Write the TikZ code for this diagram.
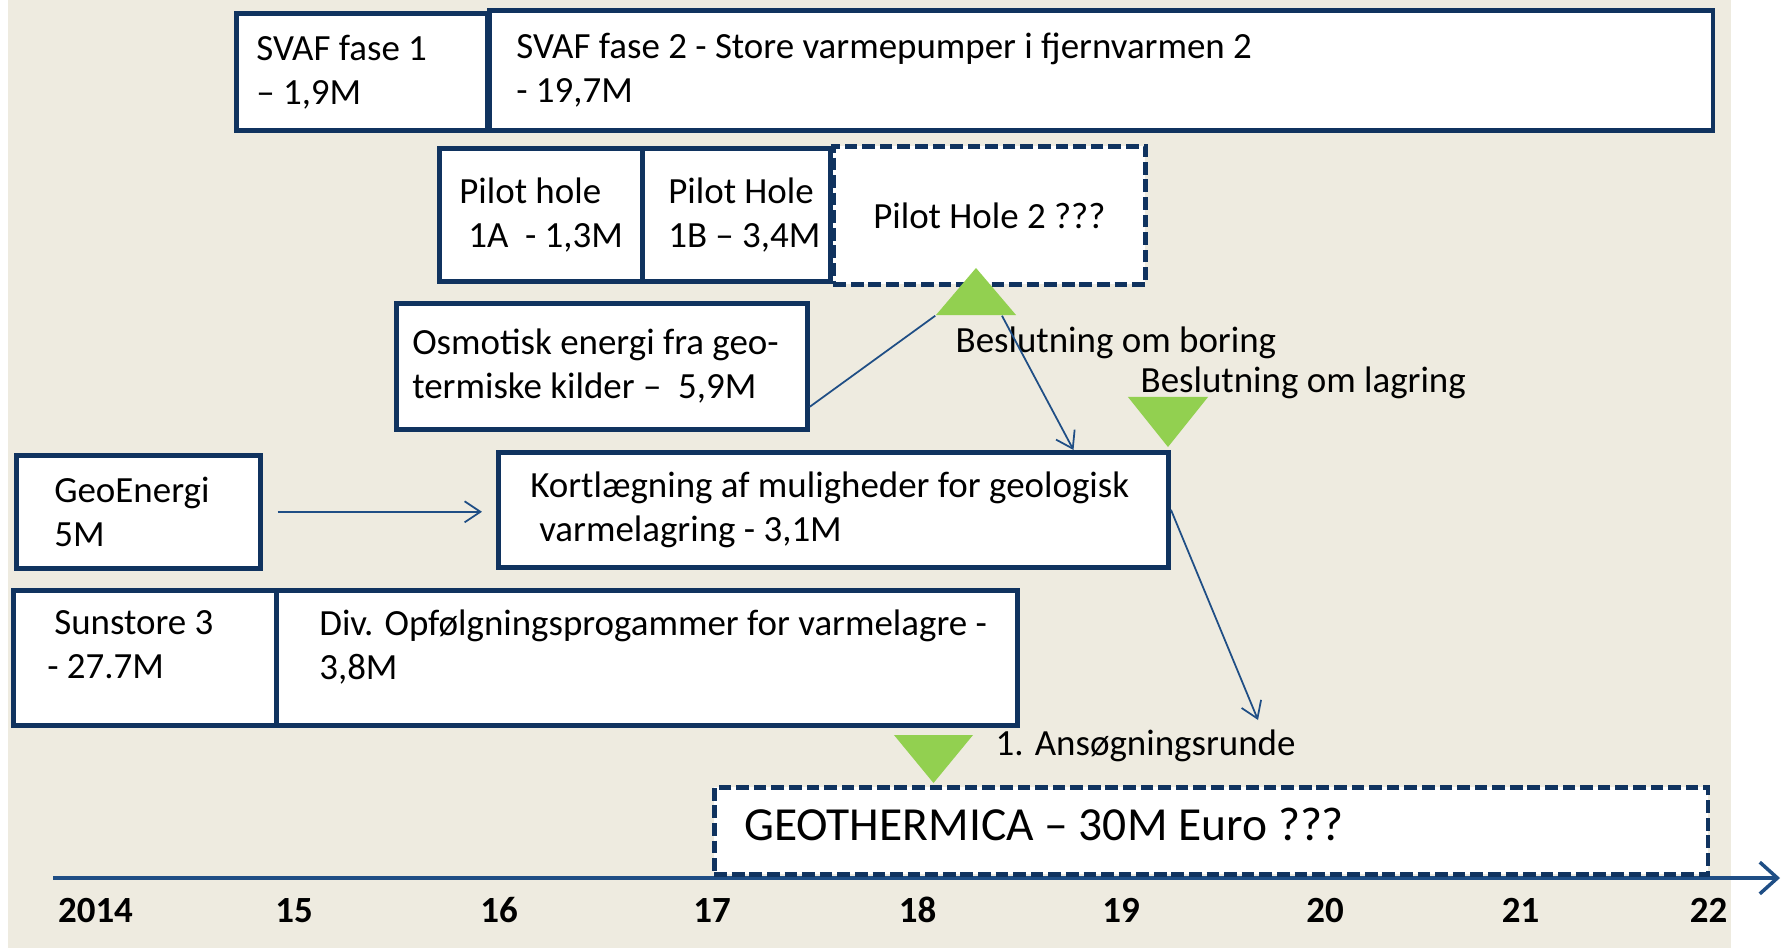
\documentclass[tikz,border=0pt]{standalone}
\usepackage{fontspec}
\setmainfont{Carlito}
\usetikzlibrary{arrows.meta}
\definecolor{boxblue}{HTML}{10335F}
\definecolor{lineblue}{HTML}{1F4E85}
\definecolor{flaggreen}{HTML}{92D050}
\definecolor{paper}{HTML}{EEEBE0}

\begin{document}
\begin{tikzpicture}
          [x=0.01cm,y=-0.01cm,
           box/.style={rectangle, draw=boxblue, line width=1.3pt, fill=white, anchor=north west, align=flush left, inner sep=0pt, font=\fontsize{10.5}{12.5}\selectfont},
           dashbox/.style={box, align=center, dash pattern=on 3.6pt off 1.4pt},
           lpad/.style={execute at begin node={\leftskip=#1}},
           remark/.style={anchor=base west, inner sep=0pt, font=\fontsize{10.5}{12.5}\selectfont},
           year/.style={anchor=base, inner sep=0pt, font=\fontsize{10.5}{12.5}\selectfont\bfseries}]
        \tikzset{
          link/.style={draw=lineblue, line width=0.5pt},
          arr/.style={link, -{Straight Barb[length=4.5pt,width=6pt]}},
          timeline/.style={draw=lineblue, line width=1pt, -{Straight Barb[length=5pt,width=9pt]}},
          flagup/.style={inner sep=0pt, minimum width=0.8cm, minimum height=0.47cm,
            path picture={\fill[flaggreen] (path picture bounding box.south west) -- (path picture bounding box.south east) -- (path picture bounding box.north) -- cycle;}},
          flagdown/.style={inner sep=0pt, minimum width=0.8cm, minimum height=0.49cm,
            path picture={\fill[flaggreen] (path picture bounding box.north west) -- (path picture bounding box.north east) -- (path picture bounding box.south) -- cycle;}}
        }
          \useasboundingbox (0,0) rectangle (1782,948);
          \fill[paper] (8,0) rectangle (1731,948);
          \coordinate (t0) at (53,878);
          \coordinate (t1) at (1780,878);
          \draw[timeline] (t0) -- (t1);
          \foreach \px/\yr in {95.5/2014,294/15,499/16,712/17,917.5/18,1121/19,1325/20,1520.5/21,1708.5/22}
            \node[year] (yr\yr) at (\px,922) {\yr};
          \node[box, lpad=.2cm, text width=2.51cm, minimum height=1.17cm] (svafA) at (234,11) {SVAF fase 1\\– 1,9M};
          \node[box, lpad=.27cm, text width=12.23cm, minimum height=1.2cm] (svafB) at (487,8) {SVAF fase 2 - Store varmepumper i fjernvarmen 2\\- 19,7M};
          \node[box, lpad=.2cm, text width=2.03cm, minimum height=1.33cm] (pilotA) at (437,146) {Pilot hole\\\hspace*{.09cm}1A\ \ - 1,3M};
          \node[box, lpad=.26cm, text width=1.88cm, minimum height=1.33cm] (pilotB) at (640,146) {Pilot Hole\\1B – 3,4M};
          \node[dashbox, minimum width=3.12cm, minimum height=1.38cm] (pilotC) at (831,144) {Pilot Hole 2 ???};
          \node[box, lpad=.16cm, text width=4.11cm, minimum height=1.26cm] (osm) at (394,301) {Osmotisk energi fra geo-\\termiske kilder – \ 5,9M};
          \node[box, lpad=.38cm, text width=2.44cm, minimum height=1.13cm] (geo) at (14,453) {GeoEnergi\\5M};
          \node[box, lpad=.32cm, text width=6.7cm, minimum height=1.15cm] (kort) at (496,450) {Kortlægning af muligheder for geologisk\\\hspace*{.09cm}varmelagring - 3,1M};
          \node[box, lpad=.41cm, text width=2.63cm, minimum height=1.35cm, text depth=20pt] (sun) at (11,588) {Sunstore 3\\\hspace*{-.07cm}- 27.7M};
          \node[box, lpad=.43cm, text width=7.41cm, minimum height=1.35cm, text depth=20pt] (div) at (274,588) {Div. Opfølgningsprogammer for varmelagre -\\3,8M};
          \node[dashbox, align=flush left, lpad=.3cm, text width=9.93cm, minimum height=0.87cm, text depth=4pt, font=\fontsize{13.5}{16}\selectfont] (geotherm) at (712,785) {GEOTHERMICA – 30M Euro ???};
          \node[flagup] (bor) at (976,291.5) {};
          \node[flagdown, minimum height=0.5cm] (lag) at (1168,422) {};
          \node[flagdown, minimum width=0.79cm, minimum height=0.48cm] (ans) at (933.5,759) {};
          \node[remark] (boring) at (955,352) {Beslutning om boring};
          \node[remark] (lagring) at (1140,392) {Beslutning om lagring};
          \node[remark] (runde) at (995,755) {1. Ansøgningsrunde};
          \coordinate (rundeTip) at (1258,720);
          \draw[link] (osm.-11) -- (bor.south west);
          \draw[arr] (bor.-43) -- (kort.14);
          \draw[arr, shorten <=0.15cm, shorten >=0.14cm] (geo.east) -- (geo.east -| kort.west);
          \draw[arr] (kort.east) -- (rundeTip);
        \end{tikzpicture}
\end{document}
